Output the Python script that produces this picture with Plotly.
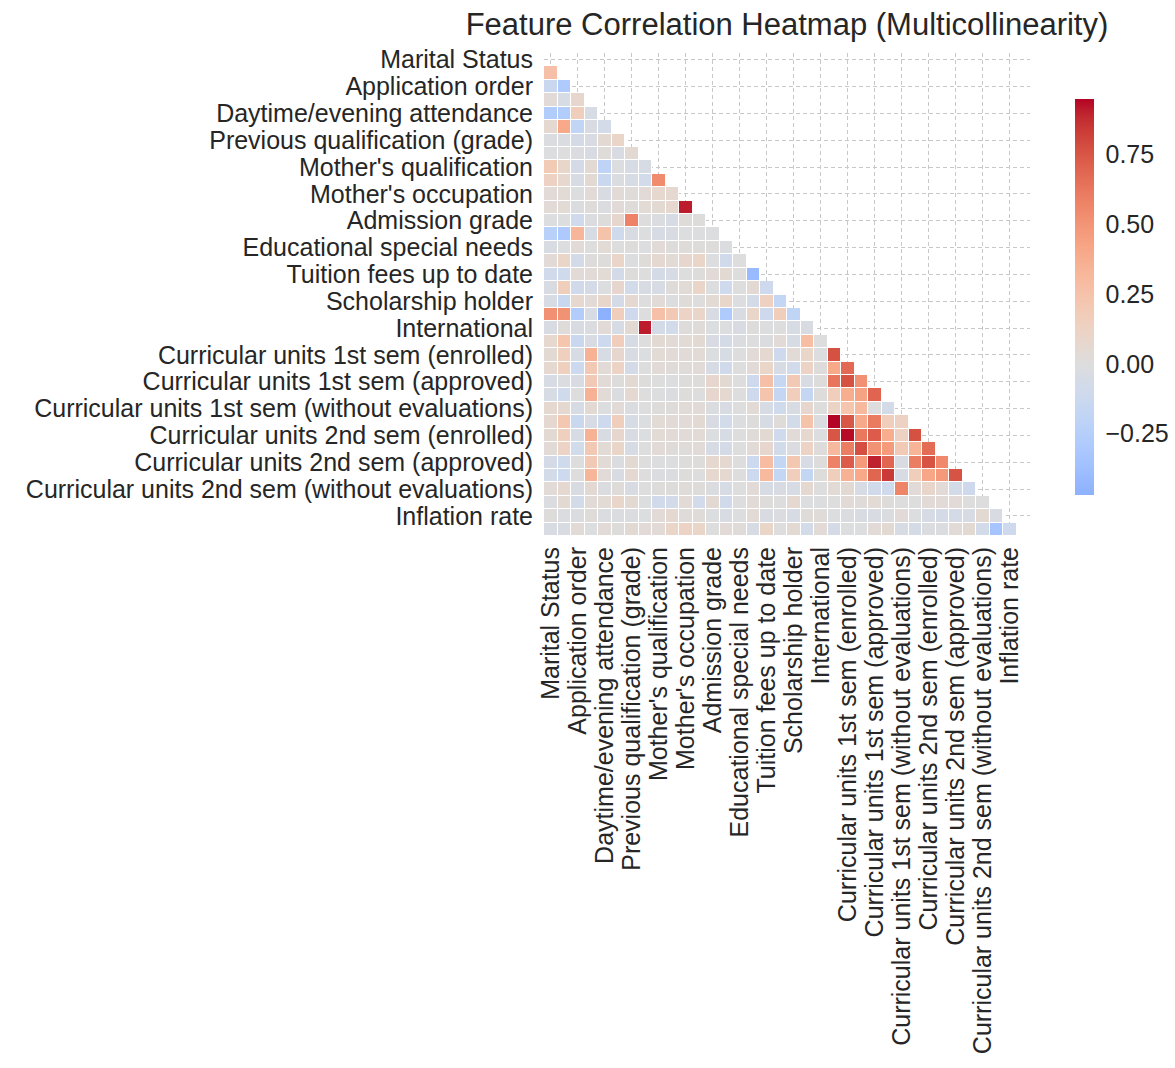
import numpy as np
import plotly.graph_objects as go

features = [
    "Marital Status", "Application mode", "Application order", "Course",
    "Daytime/evening attendance", "Previous qualification", "Previous qualification (grade)",
    "Nacionality", "Mother's qualification", "Father's qualification",
    "Mother's occupation", "Father's occupation", "Admission grade", "Displaced",
    "Educational special needs", "Debtor", "Tuition fees up to date", "Gender",
    "Scholarship holder", "Age at enrollment", "International",
    "Curricular units 1st sem (credited)", "Curricular units 1st sem (enrolled)",
    "Curricular units 1st sem (evaluations)", "Curricular units 1st sem (approved)",
    "Curricular units 1st sem (grade)", "Curricular units 1st sem (without evaluations)",
    "Curricular units 2nd sem (credited)", "Curricular units 2nd sem (enrolled)",
    "Curricular units 2nd sem (evaluations)", "Curricular units 2nd sem (approved)",
    "Curricular units 2nd sem (grade)", "Curricular units 2nd sem (without evaluations)",
    "Unemployment rate", "Inflation rate", "GDP",
]

# lower-triangle correlation rows (row i holds columns 0..i-1)
row_01 = [0.26]
row_02 = [-0.13, -0.29]
row_03 = [0.03, -0.05, 0.08]
row_04 = [-0.27, -0.27, 0.16, -0.04]
row_05 = [0.06, 0.40, -0.18, -0.03, -0.07]
row_06 = [-0.02, -0.02, -0.06, -0.03, 0.05, 0.10]
row_07 = [-0.01, 0.00, -0.02, -0.03, 0.02, -0.03, 0.05]
row_08 = [0.19, 0.09, -0.06, 0.05, -0.20, -0.01, -0.04, -0.04]
row_09 = [0.13, 0.07, -0.04, 0.05, -0.13, -0.02, -0.05, -0.08, 0.54]
row_10 = [0.03, 0.04, -0.01, 0.03, -0.03, 0.03, 0.02, 0.03, 0.07, 0.06]
row_11 = [0.03, 0.04, -0.02, 0.02, -0.02, 0.03, 0.02, 0.04, 0.05, 0.07, 0.91]
row_12 = [-0.01, -0.01, -0.10, -0.02, 0.01, 0.08, 0.58, 0.00, -0.02, -0.04, 0.02, 0.01]
row_13 = [-0.23, -0.30, 0.33, -0.05, 0.25, -0.10, -0.03, -0.01, -0.05, -0.03, -0.01, -0.01, -0.01]
row_14 = [-0.03, -0.01, 0.03, 0.00, 0.04, 0.00, 0.01, -0.01, 0.03, 0.01, 0.02, 0.02, 0.01, -0.02]
row_15 = [0.03, 0.10, -0.07, 0.01, 0.01, 0.10, -0.01, 0.02, 0.06, 0.04, 0.08, 0.10, -0.01, -0.09, 0.00]
row_16 = [-0.09, -0.10, 0.03, 0.03, 0.04, -0.07, 0.01, 0.00, -0.06, -0.04, 0.00, 0.01, 0.03, 0.05, 0.00, -0.41]
row_17 = [-0.03, 0.16, -0.09, -0.06, -0.01, 0.08, -0.08, -0.03, -0.04, 0.02, 0.04, 0.10, -0.01, -0.10, 0.00, 0.05, -0.11]
row_18 = [-0.05, -0.13, 0.07, 0.03, 0.09, -0.06, 0.06, 0.00, 0.03, -0.01, 0.02, 0.00, 0.04, 0.09, -0.01, -0.07, 0.14, -0.17]
row_19 = [0.52, 0.51, -0.27, -0.04, -0.47, 0.16, -0.11, 0.00, 0.26, 0.20, 0.12, 0.10, -0.03, -0.29, -0.03, 0.10, -0.11, 0.16, -0.19]
row_20 = [-0.03, 0.02, -0.03, -0.02, 0.03, -0.04, 0.05, 0.91, -0.06, -0.08, 0.01, 0.02, -0.01, -0.01, -0.03, 0.01, -0.01, 0.00, -0.04, -0.03]
row_21 = [0.07, 0.23, -0.13, -0.03, -0.12, 0.17, -0.05, 0.00, 0.05, 0.03, 0.04, 0.05, -0.03, -0.06, -0.02, 0.00, -0.02, 0.03, -0.05, 0.28, 0.00]
row_22 = [0.05, 0.15, -0.05, 0.35, -0.04, 0.08, -0.03, -0.01, 0.04, 0.03, 0.03, 0.04, -0.01, -0.05, 0.00, 0.03, 0.06, -0.11, 0.04, 0.10, -0.01, 0.77]
row_23 = [0.06, 0.15, -0.12, 0.20, 0.03, 0.12, -0.06, 0.00, 0.03, 0.02, 0.02, 0.03, -0.04, -0.09, 0.00, 0.03, 0.10, -0.05, -0.08, 0.12, 0.01, 0.40, 0.68]
row_24 = [-0.04, -0.02, -0.03, 0.20, 0.03, 0.01, 0.05, 0.01, 0.00, -0.01, 0.01, 0.01, 0.08, 0.05, 0.00, -0.11, 0.26, -0.15, 0.20, -0.03, 0.01, 0.63, 0.77, 0.52]
row_25 = [-0.05, -0.10, 0.00, 0.35, 0.03, -0.02, 0.06, 0.00, -0.01, -0.02, 0.01, 0.00, 0.08, 0.06, 0.00, -0.11, 0.24, -0.16, 0.17, -0.16, 0.01, 0.17, 0.38, 0.43, 0.70]
row_26 = [0.06, 0.06, -0.04, 0.05, -0.01, 0.03, -0.02, 0.00, 0.01, 0.02, 0.03, 0.03, -0.02, -0.03, 0.00, 0.04, -0.04, -0.10, -0.03, 0.08, 0.00, 0.11, 0.23, 0.31, 0.00, -0.07]
row_27 = [0.06, 0.22, -0.13, -0.05, -0.11, 0.16, -0.04, -0.01, 0.04, 0.03, 0.03, 0.05, -0.03, -0.08, -0.01, 0.01, -0.04, 0.02, -0.07, 0.25, -0.02, 0.95, 0.75, 0.40, 0.61, 0.17, 0.13]
row_28 = [0.05, 0.15, -0.05, 0.35, -0.03, 0.08, -0.03, -0.01, 0.04, 0.03, 0.03, 0.04, -0.01, -0.05, 0.00, 0.02, 0.05, -0.10, 0.03, 0.07, -0.01, 0.75, 0.94, 0.62, 0.73, 0.38, 0.13, 0.77]
row_29 = [0.03, 0.12, -0.08, 0.20, 0.04, 0.10, -0.05, 0.00, 0.03, 0.02, 0.02, 0.03, -0.04, -0.06, 0.00, 0.03, 0.08, -0.08, -0.02, 0.12, 0.01, 0.31, 0.60, 0.78, 0.51, 0.47, 0.20, 0.34, 0.67]
row_30 = [-0.06, -0.10, 0.00, 0.20, 0.04, -0.02, 0.05, 0.00, -0.01, -0.01, 0.01, 0.01, 0.07, 0.06, 0.00, -0.12, 0.29, -0.17, 0.22, -0.05, 0.01, 0.58, 0.73, 0.47, 0.90, 0.69, -0.03, 0.60, 0.76, 0.55]
row_31 = [-0.07, -0.12, 0.00, 0.33, 0.03, -0.03, 0.06, 0.00, -0.02, -0.02, 0.01, 0.00, 0.07, 0.06, 0.00, -0.12, 0.30, -0.17, 0.17, -0.17, 0.01, 0.16, 0.35, 0.40, 0.69, 0.84, -0.05, 0.16, 0.41, 0.48, 0.76]
row_32 = [0.03, 0.06, -0.03, 0.05, -0.02, 0.02, -0.03, 0.00, 0.01, 0.01, 0.02, 0.02, -0.02, -0.04, 0.00, 0.03, -0.05, -0.03, -0.04, 0.06, 0.00, 0.04, 0.05, -0.05, -0.09, -0.10, 0.57, 0.03, 0.09, 0.03, -0.07, -0.11]
row_33 = [-0.02, 0.05, -0.07, 0.03, 0.04, 0.09, 0.05, -0.01, -0.09, -0.07, 0.03, -0.08, 0.05, -0.09, 0.00, 0.03, 0.01, 0.00, 0.06, -0.01, -0.01, 0.00, 0.03, 0.02, 0.04, 0.01, 0.00, 0.00, 0.03, 0.03, 0.03, 0.00, 0.00]
row_34 = [0.01, -0.02, -0.02, 0.02, -0.02, -0.02, -0.02, -0.01, 0.03, 0.06, 0.02, 0.02, -0.01, -0.03, -0.01, 0.04, -0.03, -0.02, -0.05, 0.02, 0.02, -0.01, -0.02, -0.03, -0.03, -0.02, 0.03, -0.01, -0.04, -0.06, -0.06, -0.05, 0.05, -0.03]
row_35 = [-0.03, -0.03, 0.03, -0.01, 0.03, 0.01, 0.05, 0.03, 0.03, 0.10, 0.12, 0.10, 0.00, 0.03, 0.02, -0.05, 0.10, 0.00, 0.05, -0.07, 0.03, -0.06, -0.01, -0.01, 0.03, 0.05, -0.05, -0.06, -0.02, -0.02, 0.03, 0.05, -0.07, -0.34, -0.11]

lower_rows = [row_01, row_02, row_03, row_04, row_05, row_06, row_07, row_08, row_09, row_10,
              row_11, row_12, row_13, row_14, row_15, row_16, row_17, row_18, row_19, row_20,
              row_21, row_22, row_23, row_24, row_25, row_26, row_27, row_28, row_29, row_30,
              row_31, row_32, row_33, row_34, row_35]

colorbar_ticks = [-0.25, 0.0, 0.25, 0.5, 0.75]
title_text = "Feature Correlation Heatmap (Multicollinearity)"

n = len(features)
z = [[None] * n for _ in range(n)]
under = [[None] * n for _ in range(n)]
for i, row in enumerate(lower_rows, start=1):
    for j, v in enumerate(row[:i]):
        z[i][j] = v
        under[i][j] = 1

vals = [v for r in lower_rows for v in r]
vmin, vmax = min(vals), max(vals)

# matplotlib "coolwarm" (Moreland) control points
cw = np.array([
    [59, 76, 192], [68, 90, 204], [77, 104, 215], [87, 117, 225], [98, 130, 234],
    [108, 142, 241], [119, 154, 247], [130, 165, 251], [141, 176, 254], [152, 185, 255],
    [163, 194, 255], [174, 201, 253], [184, 208, 249], [194, 213, 244], [204, 217, 238],
    [213, 219, 230], [221, 221, 221], [229, 216, 209], [236, 211, 197], [241, 204, 185],
    [245, 196, 173], [247, 187, 160], [247, 177, 148], [247, 166, 135], [244, 154, 123],
    [241, 141, 111], [236, 127, 99], [229, 112, 88], [222, 96, 77], [213, 80, 66],
    [203, 62, 56], [192, 40, 47], [180, 4, 38]], dtype=float)
cw_pos = np.linspace(0, 1, len(cw))


def coolwarm(t):
    return [float(np.interp(t, cw_pos, cw[:, k])) for k in range(3)]


vrange = max(vmax, -vmin)
cmin = (vmin + vrange) / (2 * vrange)
cmax = (vmax + vrange) / (2 * vrange)
colorscale = []
for s in np.linspace(0, 1, 65):
    r, g, b = coolwarm(cmin + s * (cmax - cmin))
    colorscale.append([float(s), f"rgb({r:.0f},{g:.0f},{b:.0f})"])

FONT = "Liberation Sans, Arial, Helvetica, sans-serif"
TXT = "#262626"

idx = list(range(n))
tick_pos = idx[0::2]
tick_text = features[0::2]

fig = go.Figure()
fig.add_trace(go.Heatmap(
    z=under, x=idx, y=idx, colorscale=[[0, "white"], [1, "white"]],
    showscale=False, hoverinfo="skip", zmin=0, zmax=1,
))
fig.add_trace(go.Heatmap(
    z=z, x=idx, y=idx, colorscale=colorscale, zmin=vmin, zmax=vmax,
    xgap=1, ygap=1, hoverongaps=False,
    colorbar=dict(
        x=(1075 - 544) / 486, xanchor="left", xpad=0,
        y=0.495, yanchor="middle", ypad=0,
        len=396, lenmode="pixels", thickness=19, outlinewidth=0,
        tickvals=colorbar_ticks, tickformat=".2f",
        ticks="outside", ticklen=7, tickcolor="rgba(0,0,0,0)",
        tickfont=dict(family=FONT, size=25, color=TXT),
    ),
))

fig.update_layout(
    width=1175, height=1068,
    margin=dict(l=544, r=145, t=53, b=532, autoexpand=False),
    paper_bgcolor="white", plot_bgcolor="white",
    title=dict(text=title_text, x=0.5, xref="paper", xanchor="center",
               y=1 - 24 / 1068, yref="container", yanchor="middle",
               font=dict(family=FONT, size=31, color=TXT)),
    font=dict(family=FONT, color=TXT),
)
grid = dict(showgrid=True, gridcolor="#c8c8c8", gridwidth=1, griddash="4px,3px",
            zeroline=False, showline=False, ticks="", automargin=False)
fig.update_xaxes(range=[-0.5, n - 0.5], tickmode="array", tickvals=tick_pos, ticktext=tick_text,
                 tickangle=-90, tickfont=dict(family=FONT, size=25, color=TXT),
                 ticklabelstandoff=5, **grid)
fig.update_yaxes(range=[n - 0.5, -0.5], tickmode="array", tickvals=tick_pos, ticktext=tick_text,
                 tickfont=dict(family=FONT, size=25, color=TXT),
                 ticklabelstandoff=10, **grid)

fig.write_html("out.html")
